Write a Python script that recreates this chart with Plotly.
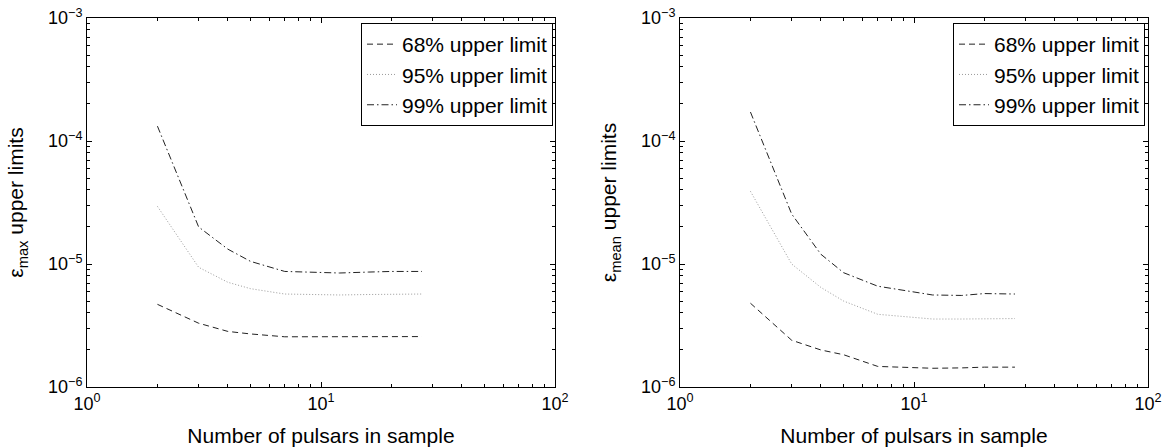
import plotly.graph_objects as go

n_pulsars = [2, 3, 4, 5, 7, 12, 16, 20, 27]

max_68 = [4.7e-6, 3.3e-6, 2.83e-6, 2.7e-6, 2.56e-6, 2.55e-6, 2.56e-6, 2.57e-6, 2.57e-6]
max_95 = [2.94e-5, 9.4e-6, 7.1e-6, 6.3e-6, 5.7e-6, 5.6e-6, 5.65e-6, 5.7e-6, 5.7e-6]
max_99 = [1.32e-4, 2.0e-5, 1.32e-5, 1.05e-5, 8.7e-6, 8.45e-6, 8.6e-6, 8.7e-6, 8.7e-6]

mean_68 = [4.8e-6, 2.4e-6, 2.0e-6, 1.83e-6, 1.47e-6, 1.42e-6, 1.43e-6, 1.45e-6, 1.45e-6]
mean_95 = [3.9e-5, 1.0e-5, 6.45e-6, 5.0e-6, 3.9e-6, 3.57e-6, 3.57e-6, 3.6e-6, 3.6e-6]
mean_99 = [1.72e-4, 2.55e-5, 1.2e-5, 8.5e-6, 6.6e-6, 5.6e-6, 5.55e-6, 5.75e-6, 5.7e-6]

series_names = ["68% upper limit", "95% upper limit", "99% upper limit"]

x_tickvals = [1, 10, 100]
x_ticktext = ["10<sup>0</sup>", "10<sup>1</sup>", "10<sup>2</sup>"]
y_tickvals = [1e-6, 1e-5, 1e-4, 1e-3]
y_ticktext = ["10<sup>−6</sup>", "10<sup>−5</sup>", "10<sup>−4</sup>", "10<sup>−3</sup>"]

x_minor = [m * d for d in (1, 10) for m in range(2, 10)]
y_minor = [m * d for d in (1e-6, 1e-5, 1e-4) for m in range(2, 10)]

styles = [
    dict(color="#222222", width=1, dash="6px,4px"),
    dict(color="#9a9a9a", width=1, dash="1px,2px"),
    dict(color="#222222", width=1, dash="7px,3px,1.5px,3px"),
]

FONT = "Liberation Sans, Arial, Helvetica, sans-serif"

W, H = 1170, 447

def px_x(p):
    return p / W

def px_y(p):
    return 1 - p / H

fig = go.Figure()

for i, ys in enumerate([max_68, max_95, max_99]):
    fig.add_trace(go.Scatter(x=n_pulsars, y=ys, mode="lines", name=series_names[i],
                             line=styles[i], xaxis="x", yaxis="y", legend="legend"))
for i, ys in enumerate([mean_68, mean_95, mean_99]):
    fig.add_trace(go.Scatter(x=n_pulsars, y=ys, mode="lines", name=series_names[i],
                             line=styles[i], xaxis="x2", yaxis="y2", legend="legend2"))

def xaxis(domain, anchor):
    return dict(type="log", range=[0, 2], domain=domain, anchor=anchor, automargin=False,
                tickvals=x_tickvals, ticktext=x_ticktext, ticks="inside", ticklen=5,
                tickcolor="black", showline=True, linecolor="black", linewidth=1,
                mirror="allticks", showgrid=False, zeroline=False, ticklabeloverflow="allow",
                minor=dict(tickvals=x_minor, ticks="inside", ticklen=3, tickcolor="black", showgrid=False),
                tickfont=dict(size=18, color="black", family=FONT),
                title=dict(text="Number of pulsars in sample", font=dict(size=21, color="black", family=FONT), standoff=16))

def yaxis(domain, anchor, title):
    return dict(type="log", range=[-6, -3], domain=domain, anchor=anchor, automargin=False,
                tickvals=y_tickvals, ticktext=y_ticktext, ticks="inside", ticklen=5,
                tickcolor="black", showline=True, linecolor="black", linewidth=1,
                mirror="allticks", showgrid=False, zeroline=False, ticklabeloverflow="allow",
                minor=dict(tickvals=y_minor, ticks="inside", ticklen=3, tickcolor="black", showgrid=False),
                tickfont=dict(size=18, color="black", family=FONT),
                title=dict(text=title, font=dict(size=21, color="black", family=FONT), standoff=18))

ydom = [px_y(387), px_y(18)]
legend_common = dict(yanchor="top", xanchor="right", bgcolor="white", bordercolor="black", borderwidth=1,
                     font=dict(size=21, color="black", family=FONT), tracegroupgap=0)
fig.update_layout(
    width=W, height=H,
    margin=dict(l=0, r=0, t=0, b=0),
    paper_bgcolor="white", plot_bgcolor="white",
    font=dict(family=FONT, color="black"),
    xaxis=xaxis([px_x(87), px_x(555)], "y"),
    yaxis=yaxis(ydom, "x", "ε<sub>max</sub> upper limits"),
    xaxis2=xaxis([px_x(680), px_x(1148)], "y2"),
    yaxis2=yaxis(ydom, "x2", "ε<sub>mean</sub> upper limits"),
    legend=dict(x=px_x(553), y=px_y(23), **legend_common),
    legend2=dict(x=px_x(1145), y=px_y(23), **legend_common),
    showlegend=True,
)

fig.write_html("out.html", config={"displayModeBar": False},
               post_script="document.body.style.margin='0';document.body.style.overflow='hidden';")
